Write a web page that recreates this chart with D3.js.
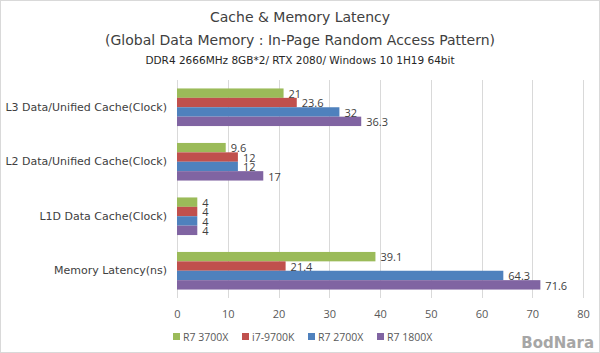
<!DOCTYPE html>
<html>
<head>
<meta charset="utf-8">
<script src="https://cdn.jsdelivr.net/npm/d3@7"></script>
<style>
  body { margin: 0; background: #fff; }
  svg { display: block; }
</style>
</head>
<body>
<div id="chart"></div>
<script>
// chart data
const categories = ['L3 Data/Unified Cache(Clock)', 'L2 Data/Unified Cache(Clock)', 'L1D Data Cache(Clock)', 'Memory Latency(ns)'];
const seriesNames = ['R7 3700X', 'i7-9700K', 'R7 2700X', 'R7 1800X'];
const seriesColors = ['#9bbb59', '#c0504d', '#4f81bd', '#8064a2'];
const r7_3700x = [21, 9.6, 4, 39.1];
const i7_9700k = [23.6, 12, 4, 21.4];
const r7_2700x = [32, 12, 4, 64.3];
const r7_1800x = [36.3, 17, 4, 71.6];
const xTicks = [0, 10, 20, 30, 40, 50, 60, 70, 80];

const seriesValues = [r7_3700x, i7_9700k, r7_2700x, r7_1800x];

const W = 600, H = 353;
const margin = {top: 80, right: 17, bottom: 55, left: 177};
const width = W - margin.left - margin.right;
const height = H - margin.top - margin.bottom;

const svg = d3.select('#chart')
    .append('svg')
    .attr('width', W)
    .attr('height', H);

// frame
svg.append('rect')
    .attr('x', 0.5).attr('y', 0.5)
    .attr('width', W - 1).attr('height', H - 1)
    .attr('fill', '#fff')
    .attr('stroke', '#d9d9d9');

// titles
const titleFont = '"DejaVu Sans", sans-serif';
svg.append('text')
    .attr('x', W / 2).attr('y', 22)
    .attr('text-anchor', 'middle')
    .attr('font-family', titleFont)
    .attr('font-size', 14)
    .attr('fill', '#404040')
    .text('Cache & Memory Latency');
svg.append('text')
    .attr('x', W / 2).attr('y', 45)
    .attr('text-anchor', 'middle')
    .attr('font-family', titleFont)
    .attr('font-size', 14)
    .attr('fill', '#404040')
    .text('(Global Data Memory : In-Page Random Access Pattern)');
svg.append('text')
    .attr('x', W / 2).attr('y', 64)
    .attr('text-anchor', 'middle')
    .attr('font-family', titleFont)
    .attr('font-size', 10.5)
    .attr('fill', '#262626')
    .text('DDR4 2666MHz 8GB*2/ RTX 2080/ Windows 10 1H19 64bit');

const g = svg.append('g')
    .attr('transform', `translate(${margin.left}, ${margin.top})`);

// scales
const x = d3.scaleLinear()
    .domain([0, 80])
    .range([0, 406]);
const y = d3.scaleBand()
    .domain(categories)
    .range([0, height])
    .paddingInner(0.31)
    .paddingOuter(0.155);
const ySub = d3.scaleBand()
    .domain(seriesNames)
    .range([0, y.bandwidth()]);

// grid
g.append('g')
    .selectAll('line')
    .data(xTicks)
    .enter()
    .append('line')
    .attr('x1', d => Math.round(x(d)) + 0.5)
    .attr('x2', d => Math.round(x(d)) + 0.5)
    .attr('y1', 0)
    .attr('y2', height)
    .attr('stroke', '#d9d9d9');

// x axis labels
const xAxis = g.append('g')
    .attr('transform', `translate(0, ${height})`)
    .call(d3.axisBottom(x).tickValues(xTicks).tickSize(0).tickPadding(12));
xAxis.select('.domain').remove();
xAxis.selectAll('text')
    .attr('font-family', '"Open Sans", sans-serif')
    .attr('font-size', 11)
    .attr('fill', '#595959');

// category labels
const yAxis = g.append('g')
    .call(d3.axisLeft(y).tickSize(0).tickPadding(10));
yAxis.select('.domain').remove();
yAxis.selectAll('text')
    .attr('font-family', '"DejaVu Sans", sans-serif')
    .attr('font-size', 11)
    .attr('fill', '#404040');

// bars
const rows = [];
categories.forEach((c, i) => {
    seriesNames.forEach((s, j) => {
        rows.push({cat: c, series: s, value: seriesValues[j][i], color: seriesColors[j]});
    });
});

g.selectAll('rect.bar')
    .data(rows)
    .enter()
    .append('rect')
    .attr('class', 'bar')
    .attr('x', 0)
    .attr('y', d => y(d.cat) + ySub(d.series))
    .attr('width', d => x(d.value))
    .attr('height', ySub.bandwidth())
    .attr('fill', d => d.color);

g.selectAll('text.val')
    .data(rows)
    .enter()
    .append('text')
    .attr('class', 'val')
    .attr('x', d => x(d.value) + 5)
    .attr('y', d => y(d.cat) + ySub(d.series) + ySub.bandwidth() / 2 + 1)
    .attr('dy', '0.35em')
    .attr('font-family', '"Open Sans", sans-serif')
    .attr('font-size', 11)
    .attr('fill', '#404040')
    .text(d => d.value);

// legend
const legendX = [173, 242, 308, 377];
const legend = svg.append('g')
    .selectAll('g')
    .data(seriesNames)
    .enter()
    .append('g')
    .attr('transform', (d, i) => `translate(${legendX[i]}, 337)`);
legend.append('rect')
    .attr('x', 0).attr('y', -4)
    .attr('width', 7).attr('height', 7)
    .attr('fill', (d, i) => seriesColors[i]);
legend.append('text')
    .attr('x', 10).attr('y', 0)
    .attr('dy', '0.35em')
    .attr('font-family', '"Open Sans", sans-serif')
    .attr('font-size', 10.5)
    .attr('fill', '#595959')
    .text(d => d);

// watermark
svg.append('text')
    .attr('x', 594).attr('y', 348)
    .attr('text-anchor', 'end')
    .attr('font-family', '"DejaVu Sans", sans-serif')
    .attr('font-weight', 'bold')
    .attr('font-size', 15)
    .attr('fill', '#a6a6a6')
    .text('BodNara');
</script>
</body>
</html>
